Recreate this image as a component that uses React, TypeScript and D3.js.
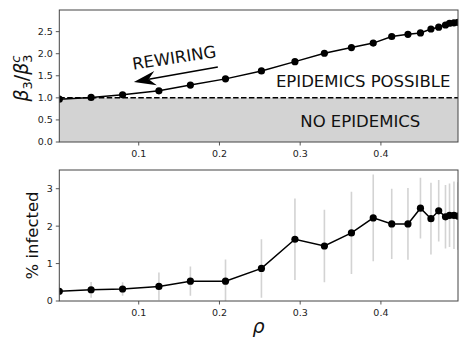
import React from 'react';
import * as d3 from 'd3';

// rewiring probability rho (x), shared by both panels
const rho = [0.0016, 0.041, 0.08, 0.125, 0.164, 0.2075, 0.252, 0.2935, 0.33, 0.3635, 0.3905, 0.4134, 0.4335, 0.449, 0.462, 0.4716, 0.48, 0.485, 0.4905, 0.4955];
// top panel: beta3 / beta3^c
const ratio = [0.97, 1.01, 1.07, 1.16, 1.29, 1.43, 1.61, 1.82, 2.01, 2.14, 2.24, 2.39, 2.44, 2.47, 2.56, 2.6, 2.65, 2.69, 2.7, 2.71];
// bottom panel: % infected, with std error bars
const infected = [0.26, 0.3, 0.32, 0.39, 0.53, 0.53, 0.87, 1.65, 1.47, 1.82, 2.22, 2.06, 2.06, 2.48, 2.2, 2.41, 2.25, 2.29, 2.29, 2.27];
const infectedErr = [0.2, 0.21, 0.18, 0.37, 0.39, 0.58, 0.78, 1.09, 0.97, 1.1, 1.16, 0.94, 0.96, 0.81, 0.96, 0.82, 0.85, 0.85, 0.9, 0.9];

const xTicks = [0.1, 0.2, 0.3, 0.4];
const ratioTicks = [0, 0.5, 1, 1.5, 2, 2.5];
const infectedTicks = [0, 1, 2, 3];
const threshold = 1;

// annotation anchors in data units
const arrowFrom = [0.198, 1.7];
const arrowTo = [0.094, 1.36];

const W = 469;
const H = 351;
const left = 59.3;
const right = 458;
const top1 = 10, bottom1 = 142;
const top2 = 170, bottom2 = 301;
const font = 'DejaVu Sans, sans-serif';
const tickColor = '#222';
const spine = '#444';

const x = d3.scaleLinear().domain([rho[0], rho[rho.length - 1]]).range([left, right]);
const y1 = d3.scaleLinear().domain([0, 2.99]).range([bottom1, top1]);
const y2 = d3.scaleLinear().domain([0, 3.5]).range([bottom2, top2]);

const line1 = d3.line<number>().x((_, i) => x(rho[i])).y((d) => y1(d));
const line2 = d3.line<number>().x((_, i) => x(rho[i])).y((d) => y2(d));

const XAxis = ({ y0 }: { y0: number }) => (
  <g>
    {xTicks.map((t) => (
      <g key={t}>
        <line x1={x(t)} x2={x(t)} y1={y0} y2={y0 + 3.5} stroke={spine} strokeWidth={0.9} />
        <text x={x(t)} y={y0 + 15} textAnchor="middle" fontSize={9.5} fontFamily={font} fill={tickColor}>
          {d3.format('.1f')(t)}
        </text>
      </g>
    ))}
  </g>
);

const YAxis = ({ scale, ticks, fmt }: { scale: d3.ScaleLinear<number, number>; ticks: number[]; fmt: string }) => (
  <g>
    {ticks.map((t) => (
      <g key={t}>
        <line x1={left - 3.5} x2={left} y1={scale(t)} y2={scale(t)} stroke={spine} strokeWidth={0.9} />
        <text x={left - 6.5} y={scale(t) + 3.4} textAnchor="end" fontSize={9.5} fontFamily={font} fill={tickColor}>
          {d3.format(fmt)(t)}
        </text>
      </g>
    ))}
  </g>
);

export default function App() {
  // arrow head geometry (pixel space, from the data anchors)
  const tx = x(arrowTo[0]), ty = y1(arrowTo[1]);
  const fx = x(arrowFrom[0]), fy = y1(arrowFrom[1]);
  const len = Math.hypot(fx - tx, fy - ty);
  const ux = (fx - tx) / len, uy = (fy - ty) / len;
  const nx = -uy, ny = ux;
  const hl = 22, hw = 7.2, notch = 15;
  const head = [
    [tx, ty],
    [tx + hl * ux + hw * nx, ty + hl * uy + hw * ny],
    [tx + notch * ux, ty + notch * uy],
    [tx + hl * ux - hw * nx, ty + hl * uy - hw * ny],
  ].map((p) => p.join(',')).join(' ');

  return (
    <svg width={W} height={H} style={{ position: 'absolute', left: 0, top: 0, background: '#fff' }}>
      <defs>
        <clipPath id="clip1"><rect x={left} y={top1} width={right - left} height={bottom1 - top1} /></clipPath>
        <clipPath id="clip2"><rect x={left} y={top2} width={right - left} height={bottom2 - top2} /></clipPath>
      </defs>

      {/* top panel */}
      <rect x={left} y={y1(threshold)} width={right - left} height={y1(0) - y1(threshold)} fill="#d3d3d3" />
      <line x1={left} x2={right} y1={y1(threshold)} y2={y1(threshold)} stroke="#000" strokeWidth={1.5} strokeDasharray="5.5,2.4" />
      <g clipPath="url(#clip1)">
        <path d={line1(ratio) ?? ''} fill="none" stroke="#000" strokeWidth={1.5} />
        {ratio.map((d, i) => (
          <circle key={i} cx={x(rho[i])} cy={y1(d)} r={3.6} fill="#000" />
        ))}
      </g>
      <line x1={fx} y1={fy} x2={tx + notch * ux} y2={ty + notch * uy} stroke="#000" strokeWidth={1.5} />
      <polygon points={head} fill="#000" />
      <text
        x={x(0.145)}
        y={y1(1.78)}
        textAnchor="middle"
        fontSize={16.5}
        fontFamily={font}
        fill="#111"
        transform={`rotate(-8.7 ${x(0.145)} ${y1(1.78)})`}
      >
        REWIRING
      </text>
      <text x={x(0.486)} y={y1(1.24)} textAnchor="end" fontSize={16.5} fontFamily={font} fill="#111">
        EPIDEMICS POSSIBLE
      </text>
      <text x={x(0.3745)} y={y1(0.33)} textAnchor="middle" fontSize={16.5} fontFamily={font} fill="#111">
        NO EPIDEMICS
      </text>
      <rect x={left} y={top1} width={right - left} height={bottom1 - top1} fill="none" stroke={spine} strokeWidth={1} />
      <XAxis y0={bottom1} />
      <YAxis scale={y1} ticks={ratioTicks} fmt=".1f" />
      <text
        transform={`translate(28,${(top1 + bottom1) / 2 + 2}) rotate(-90)`}
        textAnchor="middle"
        fontSize={19}
        fontFamily={font}
        fill="#111"
      >
        <tspan fontStyle="italic">β</tspan>
        <tspan fontSize={13} dy={4}>3</tspan>
        <tspan dy={-4}>/</tspan>
        <tspan fontStyle="italic">β</tspan>
        <tspan fontSize={13} dy={-8} fontStyle="italic">c</tspan>
        <tspan fontSize={13} dx={-7.2} dy={12}>3</tspan>
      </text>

      {/* bottom panel */}
      <g clipPath="url(#clip2)">
        {infected.map((d, i) => (
          <line
            key={i}
            x1={x(rho[i])}
            x2={x(rho[i])}
            y1={y2(d - infectedErr[i])}
            y2={y2(d + infectedErr[i])}
            stroke="#d3d3d3"
            strokeWidth={1.6}
          />
        ))}
        <path d={line2(infected) ?? ''} fill="none" stroke="#000" strokeWidth={1.5} />
        {infected.map((d, i) => (
          <circle key={i} cx={x(rho[i])} cy={y2(d)} r={3.6} fill="#000" />
        ))}
      </g>
      <rect x={left} y={top2} width={right - left} height={bottom2 - top2} fill="none" stroke={spine} strokeWidth={1} />
      <XAxis y0={bottom2} />
      <YAxis scale={y2} ticks={infectedTicks} fmt="d" />
      <text
        transform={`translate(38,${(top2 + bottom2) / 2}) rotate(-90)`}
        textAnchor="middle"
        fontSize={16.5}
        fontFamily={font}
        fill="#111"
      >
        % infected
      </text>
      <text x={(left + right) / 2} y={333} textAnchor="middle" fontSize={19} fontStyle="italic" fontFamily={font} fill="#111">
        ρ
      </text>
    </svg>
  );
}
